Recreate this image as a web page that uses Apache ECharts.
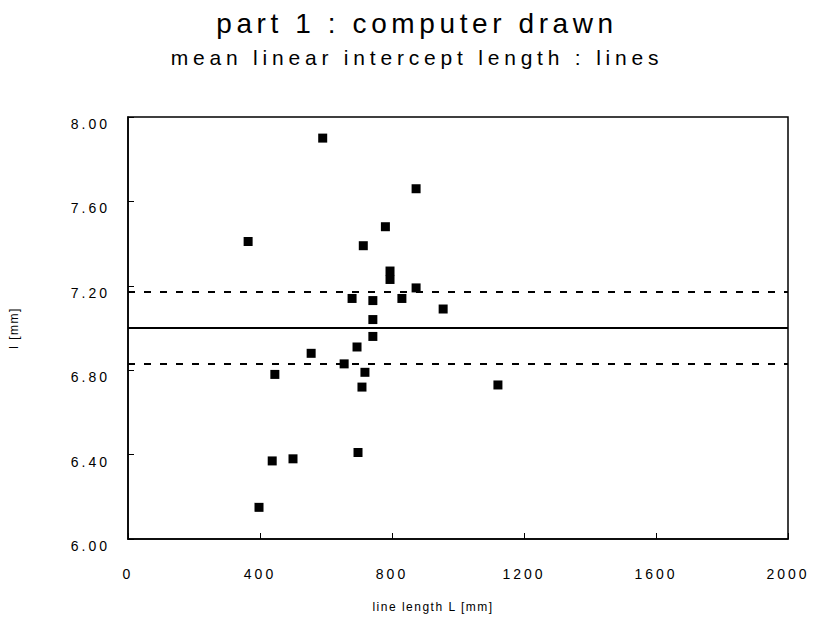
<!DOCTYPE html>
<html>
<head>
<meta charset="utf-8">
<script src="https://cdn.jsdelivr.net/npm/echarts@6/dist/echarts.min.js"></script>
<style>
html,body{margin:0;padding:0;background:#fff;}
#chart{width:817px;height:631px;}
#chart text{letter-spacing:3px;}
#chart text[style*="28px"]{letter-spacing:4.6px;}
#chart text[style*="21px"]{letter-spacing:4.8px;}
#chart text[style*="12px"]{letter-spacing:1.5px;}
</style>
</head>
<body>
<div id="chart"></div>
<script>
// line length L [mm]
const lineLength = [364, 397, 437, 445, 500, 555, 590, 655, 679, 694, 697, 709, 713, 718, 742, 742, 742, 780, 794, 794, 830, 873, 873, 955, 1121];
// l [mm]
const interceptLength = [7.41, 6.15, 6.37, 6.78, 6.38, 6.88, 7.90, 6.83, 7.14, 6.91, 6.41, 6.72, 7.39, 6.79, 7.13, 7.04, 6.96, 7.48, 7.27, 7.23, 7.14, 7.66, 7.19, 7.09, 6.73];
const meanValue = 7.00;
const confidenceBounds = [7.17, 6.83];
const xTicks = [0, 400, 800, 1200, 1600, 2000];
const yTicks = [6.00, 6.40, 6.80, 7.20, 7.60, 8.00];

const points = lineLength.map((x, i) => [x, interceptLength[i]]);

const chart = echarts.init(document.getElementById('chart'), null, {renderer: 'svg'});
const fontFam = '"Liberation Sans", Arial, Helvetica, sans-serif';
chart.setOption({
  animation: false,
  backgroundColor: '#fff',
  title: [{
    text: 'part 1 : computer drawn',
    left: 412, top: 4, textAlign: 'center',
    textStyle: {fontSize: 28, fontWeight: 'normal', color: '#000', fontFamily: fontFam}
  }, {
    text: 'mean linear intercept length : lines',
    left: 412, top: 42, textAlign: 'center',
    textStyle: {fontSize: 21, fontWeight: 'normal', color: '#000', fontFamily: fontFam}
  }],
  grid: {left: 128, right: 29, top: 117, bottom: 92, show: true, borderColor: '#000', borderWidth: 1.5},
  xAxis: {
    type: 'value', min: xTicks[0], max: xTicks[xTicks.length - 1], interval: 400,
    name: 'line length L [mm]', nameLocation: 'middle', nameGap: 62,
    nameTextStyle: {fontSize: 12, color: '#000000', fontFamily: fontFam, padding: [0, 50, 0, 0]},
    axisLine: {lineStyle: {color: '#000', width: 1.5}},
    axisTick: {inside: true, length: 6, lineStyle: {color: '#000'}},
    axisLabel: {fontSize: 14, color: '#000', margin: 28, fontFamily: fontFam,
      formatter: v => String(v)},
    splitLine: {show: false}
  },
  yAxis: {
    type: 'value', min: yTicks[0], max: yTicks[yTicks.length - 1], interval: 0.4,
    name: 'l [mm]', nameLocation: 'middle', nameGap: 108, nameRotate: 90,
    nameTextStyle: {fontSize: 12, color: '#000000', fontFamily: fontFam},
    axisLine: {lineStyle: {color: '#000', width: 1.5}},
    axisTick: {inside: true, length: 6, lineStyle: {color: '#000'}},
    axisLabel: {fontSize: 14, color: '#000', margin: 18, fontFamily: fontFam,
      verticalAlign: 'top',
      formatter: v => v.toFixed(2)},
    splitLine: {show: false}
  },
  series: [{
    type: 'scatter',
    symbol: 'rect',
    symbolSize: 9,
    itemStyle: {color: '#000', opacity: 1},
    data: points,
    markLine: {
      silent: true,
      symbol: 'none',
      label: {show: false},
      data: [
        {yAxis: meanValue, lineStyle: {type: 'solid', color: '#000', width: 2, opacity: 1}},
        {yAxis: confidenceBounds[0], lineStyle: {type: [7, 9], color: '#000', width: 2, opacity: 1}},
        {yAxis: confidenceBounds[1], lineStyle: {type: [7, 9], color: '#000', width: 2, opacity: 1}}
      ]
    }
  }]
});
</script>
</body>
</html>
